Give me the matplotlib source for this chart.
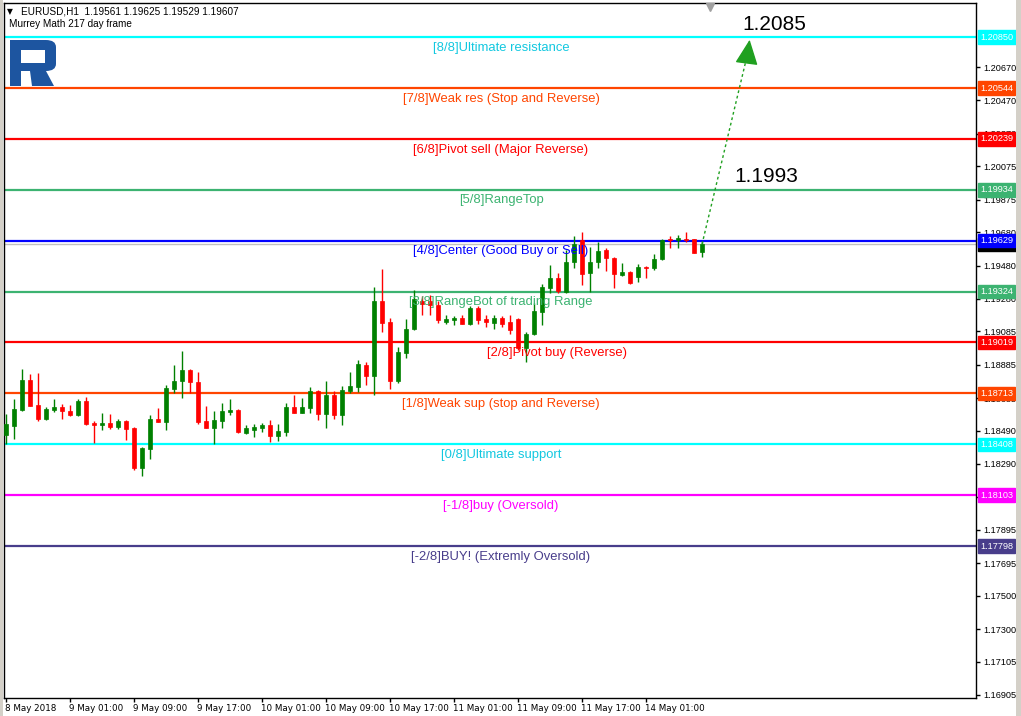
import matplotlib
matplotlib.use('Agg')
import matplotlib.pyplot as plt
import matplotlib.transforms as mtransforms
from matplotlib.patches import Rectangle, FancyBboxPatch, Polygon

# hourly EURUSD candles, 8 May 17:00 .. 14 May 02:00
opens = [1.18466, 1.18519, 1.18615, 1.18795, 1.18645, 1.18561, 1.18615, 1.18633, 1.18609, 1.18585,
         1.18669, 1.18537, 1.18525, 1.18537, 1.18513, 1.18549, 1.18507, 1.18267, 1.18381, 1.18561,
         1.18543, 1.18741, 1.18789, 1.18855, 1.18783, 1.18549, 1.18507, 1.18549, 1.18603, 1.18615,
         1.18477, 1.18495, 1.18507, 1.18525, 1.18459, 1.18483, 1.18633, 1.18597, 1.18627, 1.18729,
         1.18591, 1.18705, 1.18585, 1.18729, 1.18753, 1.18885, 1.18819, 1.19269, 1.19143, 1.18789,
         1.18957, 1.19101, 1.19269, 1.19269, 1.19245, 1.19143, 1.19155, 1.19167, 1.19131, 1.19227,
         1.19161, 1.19137, 1.19167, 1.19143, 1.19161, 1.18987, 1.19071, 1.19203, 1.19347, 1.19407,
         1.19323, 1.19503, 1.19635, 1.19437, 1.19503, 1.19575, 1.19527, 1.19425, 1.19443, 1.19413,
         1.19473, 1.19467, 1.19521, 1.19641, 1.19635, 1.19641, 1.19641, 1.19561]
highs = [1.18592, 1.18681, 1.18861, 1.18831, 1.18837, 1.18633, 1.18681, 1.18651, 1.18645, 1.18681,
         1.18693, 1.18549, 1.18597, 1.18591, 1.18561, 1.18552, 1.18513, 1.18393, 1.18585, 1.18627,
         1.18765, 1.18885, 1.18969, 1.18861, 1.18843, 1.18639, 1.18609, 1.18657, 1.18681, 1.18621,
         1.18525, 1.18531, 1.18537, 1.18555, 1.18531, 1.18657, 1.18705, 1.18687, 1.18753, 1.18735,
         1.18789, 1.18729, 1.18759, 1.18843, 1.18915, 1.18903, 1.19353, 1.19461, 1.19167, 1.18993,
         1.19161, 1.19335, 1.19299, 1.19305, 1.19269, 1.19185, 1.19179, 1.19185, 1.19239, 1.19239,
         1.19185, 1.19185, 1.19179, 1.19185, 1.19167, 1.19083, 1.19257, 1.19371, 1.19485, 1.19437,
         1.19575, 1.19659, 1.19683, 1.19593, 1.19623, 1.19587, 1.19530, 1.19497, 1.19446, 1.19491,
         1.19476, 1.19551, 1.19641, 1.19659, 1.19665, 1.19683, 1.19641, 1.19625]
lows = [1.18412, 1.18441, 1.18610, 1.18635, 1.18549, 1.18555, 1.18603, 1.18561, 1.18580, 1.18580,
        1.18525, 1.18417, 1.18495, 1.18501, 1.18501, 1.18435, 1.18255, 1.18219, 1.18321, 1.18540,
        1.18495, 1.18717, 1.18687, 1.18717, 1.18531, 1.18505, 1.18411, 1.18505, 1.18585, 1.18477,
        1.18471, 1.18453, 1.18483, 1.18423, 1.18429, 1.18459, 1.18595, 1.18595, 1.18597, 1.18555,
        1.18507, 1.18561, 1.18525, 1.18717, 1.18723, 1.18765, 1.18705, 1.19083, 1.18741, 1.18777,
        1.18927, 1.19095, 1.19185, 1.19185, 1.19137, 1.19131, 1.19125, 1.19129, 1.19125, 1.19131,
        1.19113, 1.19101, 1.19113, 1.19071, 1.18975, 1.18903, 1.19065, 1.19125, 1.19317, 1.19317,
        1.19317, 1.19467, 1.19365, 1.19323, 1.19467, 1.19449, 1.19347, 1.19419, 1.19371, 1.19383,
        1.19407, 1.19455, 1.19515, 1.19587, 1.19587, 1.19623, 1.19555, 1.19529]
closes = [1.18532, 1.18621, 1.18795, 1.18639, 1.18561, 1.18621, 1.18633, 1.18609, 1.18585, 1.18669,
          1.18531, 1.18525, 1.18537, 1.18513, 1.18549, 1.18501, 1.18267, 1.18387, 1.18561, 1.18543,
          1.18747, 1.18789, 1.18855, 1.18783, 1.18543, 1.18507, 1.18555, 1.18609, 1.18615, 1.18483,
          1.18507, 1.18513, 1.18525, 1.18459, 1.18489, 1.18633, 1.18597, 1.18633, 1.18729, 1.18591,
          1.18705, 1.18585, 1.18735, 1.18759, 1.18891, 1.18819, 1.19269, 1.19137, 1.18789, 1.18963,
          1.19101, 1.19281, 1.19251, 1.19245, 1.19155, 1.19161, 1.19167, 1.19131, 1.19227, 1.19155,
          1.19143, 1.19167, 1.19131, 1.19095, 1.18987, 1.19071, 1.19209, 1.19353, 1.19407, 1.19329,
          1.19503, 1.19611, 1.19431, 1.19503, 1.19569, 1.19527, 1.19431, 1.19443, 1.19377, 1.19473,
          1.19467, 1.19521, 1.19635, 1.19635, 1.19647, 1.19635, 1.19557, 1.19607]

# Murrey Math levels
level_values = [1.20850, 1.20544, 1.20239, 1.19934, 1.19629, 1.19324, 1.19019, 1.18713, 1.18408, 1.18103, 1.17798]
level_names = ['[8/8]Ultimate resistance', '[7/8]Weak res (Stop and Reverse)', '[6/8]Pivot sell (Major Reverse)',
               '[5/8]RangeTop', '[4/8]Center (Good Buy or Sell)', '[3/8]RangeBot of trading Range',
               '[2/8]Pivot buy (Reverse)', '[1/8]Weak sup (stop and Reverse)', '[0/8]Ultimate support',
               '[-1/8]buy (Oversold)', '[-2/8]BUY! (Extremly Oversold)']
level_colors = ['#00FFFF', '#FF4500', '#FF0000', '#3CB371', '#0000FF', '#3CB371',
                '#FF0000', '#FF4500', '#00FFFF', '#FF00FF', '#483D8B']

price_ticks = [1.20670, 1.20470, 1.20270, 1.20075, 1.19875, 1.19680, 1.19480, 1.19280, 1.19085,
               1.18885, 1.18685, 1.18490, 1.18290, 1.18095, 1.17895, 1.17695, 1.17500, 1.17300, 1.17105, 1.16905]
time_tick_bars = [0, 8, 16, 24, 32, 40, 48, 56, 64, 72, 80]
time_tick_labels = ['8 May 2018', '9 May 01:00', '9 May 09:00', '9 May 17:00', '10 May 01:00', '10 May 09:00',
                    '10 May 17:00', '11 May 01:00', '11 May 09:00', '11 May 17:00', '14 May 01:00']

last_price = 1.19607
target_low = 1.1993
target_high = 1.2085
header = 'EURUSD,H1  1.19561 1.19625 1.19529 1.19607'
subheader = 'Murrey Math 217 day frame'

plt.rcParams['font.family'] = 'DejaVu Sans'
W, H = 1021, 716
fig = plt.figure(figsize=(W / 100, H / 100), dpi=100)
fig.patch.set_facecolor('white')


def fx(px):
    return px / W


def fy(py):
    return 1 - py / H


ax = fig.add_axes([fx(4), fy(698), fx(976) - fx(4), fy(3) - fy(698)])
ax.set_xlim(-0.25, 121.25)
ax.set_ylim(1.16887, 1.21054)

# window borders
fig.patches.append(Rectangle((0, 0), fx(3), 1, transform=fig.transFigure, fc='#d4d0c8', ec='none'))
fig.patches.append(Rectangle((fx(1016), 0), 1, 1, transform=fig.transFigure, fc='#d4d0c8', ec='none'))

axfont = 'Liberation Sans'
axsize = 6.6

# levels
n = len(opens)
for val, name, col in zip(level_values, level_names, level_colors):
    ax.axhline(val, color=col, lw=1.6, zorder=1)
    tx = 68.875 if name.startswith('[2/8]') else 61.875
    tcol = '#12c8e0' if col == '#00FFFF' else col
    ax.annotate(name, xy=(tx, val), xytext=(0, -3.3), textcoords='offset points',
                ha='center', va='top', color=tcol, fontsize=9.4, family='Liberation Sans', zorder=6)
    ax.annotate('%.5f' % val, xy=(1, val), xycoords=('axes fraction', 'data'), xytext=(3, 0),
                textcoords='offset points', ha='left', va='center', color='white', fontsize=axsize,
                family=axfont, annotation_clip=False, zorder=8,
                bbox=dict(boxstyle='square,pad=0.25', fc=col, ec=col))

# current price line and marker
ax.axhline(last_price, color='#c0c0c0', lw=1, zorder=1)
ax.annotate('%.5f' % last_price, xy=(1, last_price), xycoords=('axes fraction', 'data'), xytext=(3, 0),
            textcoords='offset points', ha='left', va='center', color='white', fontsize=axsize,
            family=axfont, annotation_clip=False, zorder=7,
            bbox=dict(boxstyle='square,pad=0.25', fc='black', ec='black'))

# candles
for i in range(n):
    up = closes[i] >= opens[i]
    c = '#008000' if up else '#FF0000'
    ax.vlines(i, lows[i], highs[i], color=c, lw=1, zorder=3)
    lo = min(opens[i], closes[i])
    hgt = max(abs(closes[i] - opens[i]), 0.00004)
    ax.bar(i, hgt, bottom=lo, width=0.62, color=c, edgecolor=c, lw=0.5, zorder=4)

# forecast arrow
tip_x = n - 1 + 6.0
ax.plot([n - 1, tip_x - 0.35], [last_price, target_high - 0.0011], color='#20a020', lw=1,
        linestyle=(0, (2, 2)), zorder=5)
ax.annotate('', xy=(tip_x, target_high), xytext=(tip_x - 0.3, target_high - 0.0011),
            arrowprops=dict(arrowstyle='-|>,head_length=1.3,head_width=0.6', color='#20a020',
                            lw=1, mutation_scale=12), zorder=6)
ax.text(96.0, 1.20925, '%.4f' % target_high, ha='center', va='center', fontsize=15,
        family='Liberation Sans', color='black', zorder=6)
ax.text(95.1, 1.20011, '%.4f' % target_low, ha='center', va='center', fontsize=15,
        family='Liberation Sans', color='black', zorder=6)

# shift marker
ax.plot([88.0], [1.21030], marker='v', ms=6, color='#a0a0a0', clip_on=False, zorder=6)

# axes styling
for s in ax.spines.values():
    s.set_color('black')
    s.set_linewidth(1)
ax.yaxis.tick_right()
ax.set_yticks(price_ticks)
ax.set_yticklabels(['%.5f' % v for v in price_ticks], family=axfont)
ax.tick_params(axis='y', direction='out', length=3, width=1, pad=2, labelsize=axsize, colors='black')
ax.set_xticks(time_tick_bars)
ax.set_xticklabels(time_tick_labels)
ax.tick_params(axis='x', direction='out', length=3, width=1, pad=1.5, labelsize=6.3, colors='black')
offset = mtransforms.ScaledTranslation(-1 / 100, 0, fig.dpi_scale_trans)
for lab in ax.get_xticklabels():
    lab.set_horizontalalignment('left')
    lab.set_transform(lab.get_transform() + offset)

# header texts
fig.text(fx(7), fy(12), '\u25bc', fontsize=5.5, va='center', ha='left')
fig.text(fx(21), fy(12), header, fontsize=7.2, family=axfont, va='center', ha='left')
fig.text(fx(9), fy(24), subheader, fontsize=7.2, family=axfont, va='center', ha='left')

# logo
logo = '#1d55a0'
fig.patches.append(FancyBboxPatch((fx(10), fy(71)), fx(46) - fx(0), fy(40) - fy(71),
                                  boxstyle='round,pad=0,rounding_size=0.01', transform=fig.transFigure,
                                  fc=logo, ec='none'))
fig.patches.append(Rectangle((fx(10), fy(40)), fx(10), fy(40) - fy(0), transform=fig.transFigure,
                             fc=logo, ec='none'))
fig.patches.append(Rectangle((fx(10), fy(86)), fx(11), fy(40) - fy(86), transform=fig.transFigure,
                             fc=logo, ec='none'))
fig.patches.append(Rectangle((fx(21), fy(63)), fx(24), fy(50) - fy(63), transform=fig.transFigure,
                             fc='white', ec='none'))
fig.patches.append(Polygon([(fx(30), fy(71)), (fx(46), fy(71)), (fx(54), fy(86)), (fx(32), fy(86))],
                           closed=True, transform=fig.transFigure, fc=logo, ec='none'))

fig.savefig('out.png', dpi=100, facecolor='white')
